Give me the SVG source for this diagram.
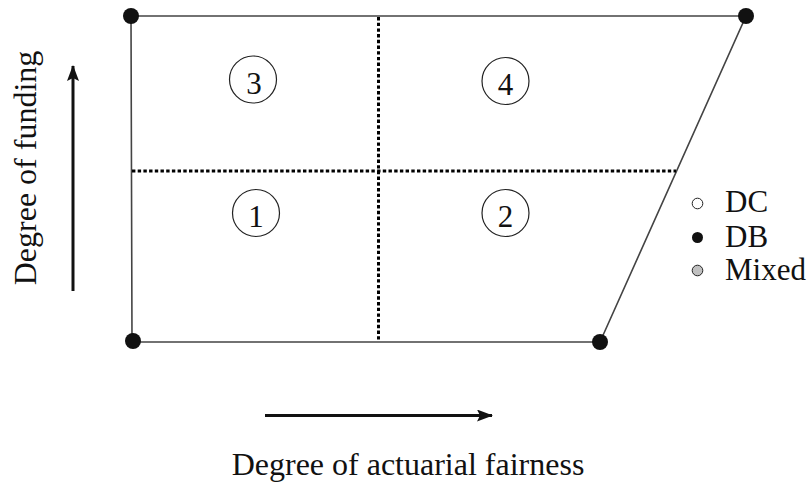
<svg xmlns="http://www.w3.org/2000/svg" width="811" height="487" viewBox="0 0 811 487">
<style>
.frame{fill:none;stroke:#444;stroke-width:1.6}
.dot{fill:none;stroke:#000;stroke-width:3;stroke-dasharray:3.4 2.3}
.corner{fill:#111}
.ring{fill:#fff;stroke:#222;stroke-width:1.2}
.axis{stroke:#111;stroke-width:3;fill:none}
text{font-family:'Liberation Serif','Times New Roman',serif;fill:#111}
</style>
<defs>
<marker id="ah" viewBox="0 0 16 12" refX="15" refY="6" markerWidth="16" markerHeight="12" markerUnits="userSpaceOnUse" orient="auto">
<path d="M0,0 L16,6 L0,12 L3,6 Z" fill="#111"/>
</marker>
</defs>
<rect width="811" height="487" fill="#fff"/>
<g id="connectors">
<path class="frame" d="M131,16 L746,16 L600,342 L132,342 Z"/>
<line class="dot" x1="378.5" y1="17" x2="378.5" y2="342"/>
<line class="dot" x1="132" y1="171" x2="676" y2="171"/>
<line class="axis" x1="73" y1="291" x2="73" y2="66" marker-end="url(#ah)"/>
<line class="axis" x1="265" y1="415.5" x2="492" y2="415.5" marker-end="url(#ah)"/>
</g>
<g id="corner-tl"><circle class="corner" cx="131" cy="16" r="8"/></g>
<g id="corner-tr"><circle class="corner" cx="746" cy="16" r="8"/></g>
<g id="corner-bl"><circle class="corner" cx="133" cy="341" r="8"/></g>
<g id="corner-br"><circle class="corner" cx="600" cy="342" r="8"/></g>
<g font-size="31" text-anchor="middle">
<g id="q3"><circle class="ring" cx="253" cy="79.5" r="23.5"/><text x="254" y="94">3</text></g>
<g id="q4"><circle class="ring" cx="505.5" cy="81" r="23.5"/><text x="505.5" y="95">4</text></g>
<g id="q1"><circle class="ring" cx="256" cy="213" r="23.5"/><text x="256" y="227">1</text></g>
<g id="q2"><circle class="ring" cx="505.5" cy="213" r="23.5"/><text x="505.5" y="227">2</text></g>
</g>
<g id="legend" font-size="31">
<circle cx="697.5" cy="203.5" r="5.3" fill="#fff" stroke="#222" stroke-width="1"/>
<text x="725" y="212">DC</text>
<circle cx="697.5" cy="237.5" r="5.5" fill="#111"/>
<text x="725" y="247">DB</text>
<circle cx="697.5" cy="270.5" r="5.3" fill="#c0c0c0" stroke="#222" stroke-width="1"/>
<text x="725" y="280">Mixed</text>
</g>
<g id="ylabel"><text font-size="32" transform="translate(36,168) rotate(-90)" text-anchor="middle">Degree of funding</text></g>
<g id="xlabel"><text font-size="32" x="408" y="475" text-anchor="middle">Degree of actuarial fairness</text></g>
</svg>
